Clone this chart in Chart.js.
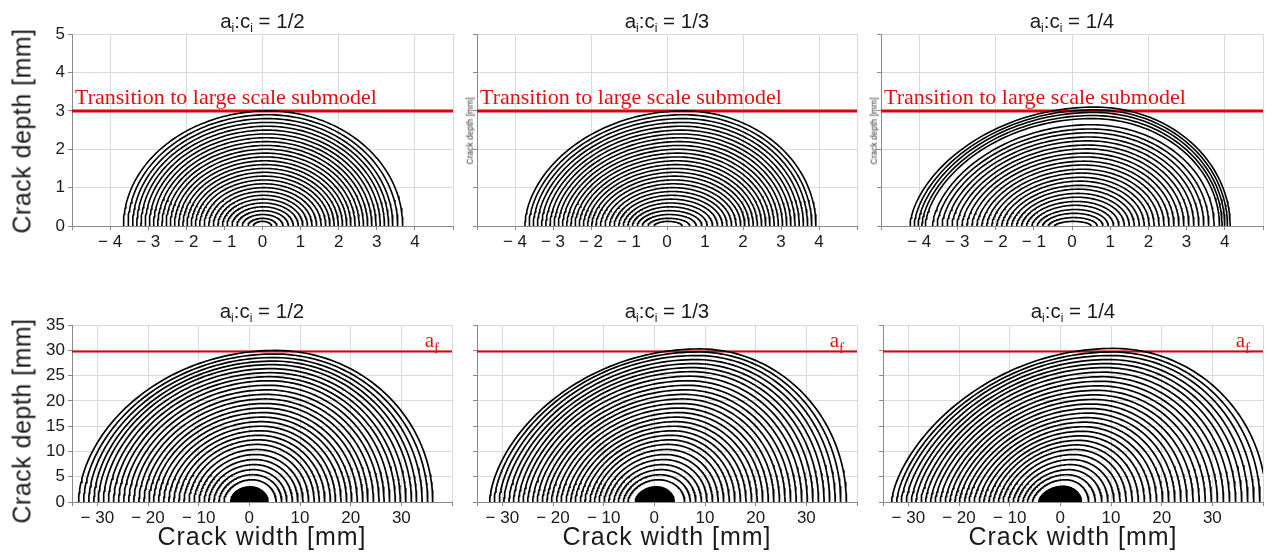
<!DOCTYPE html>
<html>
<head>
<meta charset="utf-8">
<script src="https://cdn.jsdelivr.net/npm/chart.js@4.4.1/dist/chart.umd.min.js"></script>
<style>
  html, body { margin: 0; padding: 0; background: #fff; }
  body { width: 1268px; height: 556px; position: relative; overflow: hidden;
         font-family: "Liberation Sans", Arial, sans-serif; color: #1a1a1a; }
  canvas { position: absolute; }
  .t { position: absolute; white-space: nowrap; transform: translate(-50%, -50%); line-height: 1; }
  .title { font-size: 20.5px; }
  .title sub { font-size: 12px; vertical-align: -4px; line-height: 0; }
  .ylab { font-size: 25px; letter-spacing: 0.5px; transform: translate(-50%, -50%) rotate(-90deg); }
  .xlab { font-size: 25px; letter-spacing: 1px; }
  .ymini { font-size: 8.5px; color: #333; transform: translate(-50%, -50%) rotate(-90deg); }
</style>
</head>
<body>
<div id="root"></div>
<script>
// ---- Crack front data: depth [mm], left / right surface tip [mm], deepest point position [mm] ----

// small scale submodel, a_i:c_i = 1/2
const small12Depth = [0.12,0.2,0.3,0.4,0.5,0.6,0.7,0.8,0.9,1.0,1.1,1.2,1.3,1.4,1.5,1.6,1.7,1.8,1.9,2.0,2.1,2.2,2.3,2.4,2.5,2.6,2.7,2.8,2.9,3.0];
const small12Left  = [-0.24,-0.38,-0.53,-0.67,-0.80,-0.93,-1.05,-1.17,-1.29,-1.41,-1.53,-1.65,-1.76,-1.87,-1.98,-2.09,-2.20,-2.31,-2.42,-2.53,-2.64,-2.75,-2.86,-2.97,-3.08,-3.19,-3.30,-3.41,-3.53,-3.65];
const small12Right = [0.24,0.38,0.54,0.68,0.81,0.94,1.06,1.18,1.30,1.42,1.54,1.66,1.77,1.88,1.99,2.10,2.21,2.32,2.43,2.54,2.65,2.76,2.87,2.98,3.09,3.20,3.31,3.42,3.55,3.68];
const small12Peak  = [0,0,0,0.01,0.01,0.02,0.02,0.03,0.03,0.04,0.04,0.05,0.05,0.06,0.06,0.07,0.07,0.08,0.08,0.09,0.09,0.10,0.10,0.11,0.11,0.12,0.12,0.13,0.14,0.15];

// small scale submodel, a_i:c_i = 1/3
const small13Depth = [0.12,0.2,0.3,0.4,0.5,0.6,0.7,0.8,0.9,1.0,1.1,1.2,1.3,1.4,1.5,1.6,1.7,1.8,1.9,2.0,2.1,2.2,2.3,2.4,2.5,2.6,2.7,2.8,2.9,3.0];
const small13Left  = [-0.34,-0.50,-0.65,-0.78,-0.91,-1.03,-1.15,-1.27,-1.39,-1.51,-1.63,-1.75,-1.87,-1.98,-2.09,-2.20,-2.31,-2.42,-2.53,-2.64,-2.75,-2.86,-2.97,-3.08,-3.19,-3.30,-3.41,-3.52,-3.63,-3.74];
const small13Right = [0.40,0.60,0.77,0.92,1.06,1.20,1.33,1.46,1.58,1.70,1.82,1.94,2.05,2.16,2.27,2.38,2.49,2.60,2.71,2.82,2.93,3.04,3.15,3.26,3.37,3.48,3.59,3.70,3.81,3.92];
const small13Peak  = [0.02,0.03,0.05,0.06,0.08,0.09,0.11,0.12,0.14,0.15,0.17,0.18,0.20,0.21,0.23,0.24,0.26,0.27,0.29,0.30,0.32,0.33,0.35,0.36,0.38,0.39,0.41,0.42,0.44,0.45];

// small scale submodel, a_i:c_i = 1/4
const small14Depth = [0.12,0.22,0.33,0.43,0.54,0.64,0.75,0.85,0.96,1.06,1.17,1.27,1.38,1.48,1.59,1.69,1.80,1.90,2.01,2.11,2.22,2.32,2.43,2.53,2.64,2.80,2.88,2.96,3.03,3.10];
const small14Left  = [-0.46,-0.62,-0.77,-0.91,-1.05,-1.19,-1.32,-1.45,-1.58,-1.71,-1.84,-1.97,-2.10,-2.23,-2.36,-2.49,-2.62,-2.75,-2.88,-3.01,-3.14,-3.27,-3.40,-3.53,-3.65,-3.84,-3.93,-4.03,-4.13,-4.24];
const small14Right = [0.50,0.66,0.81,0.95,1.09,1.23,1.37,1.50,1.63,1.76,1.89,2.02,2.15,2.28,2.41,2.54,2.67,2.80,2.93,3.06,3.19,3.32,3.45,3.58,3.72,3.86,3.93,4.00,4.07,4.14];
const small14Peak  = [0.02,0.04,0.06,0.08,0.10,0.12,0.14,0.16,0.18,0.20,0.22,0.24,0.26,0.28,0.30,0.32,0.34,0.36,0.38,0.40,0.42,0.44,0.46,0.48,0.50,0.52,0.54,0.56,0.58,0.60];

// large scale submodel, a_i:c_i = 1/2
const large12Depth = [4.4,5.4,6.4,7.4,8.4,9.4,10.4,11.4,12.3,13.2,14.1,15.0,15.9,16.8,17.7,18.6,19.5,20.4,21.3,22.2,23.1,24.0,24.8,25.6,26.4,27.2,27.9,28.6,29.3,30.0];
const large12Left  = [-5.0,-6.0,-7.0,-8.0,-8.9,-9.9,-10.9,-11.9,-12.9,-13.9,-14.9,-15.9,-16.9,-17.9,-18.9,-19.8,-20.8,-21.8,-22.8,-23.8,-24.8,-25.8,-26.8,-27.8,-28.8,-29.8,-30.7,-31.7,-32.7,-33.7];
const large12Right = [5.3,6.4,7.4,8.5,9.6,10.6,11.7,12.8,13.8,14.9,16.0,17.0,18.1,19.2,20.2,21.3,22.4,23.4,24.5,25.6,26.6,27.7,28.8,29.8,30.9,32.0,33.0,34.1,35.2,36.2];
const large12Peak  = [0.5,0.7,0.8,1.0,1.1,1.3,1.5,1.6,1.8,1.9,2.1,2.3,2.4,2.6,2.7,2.9,3.1,3.2,3.4,3.5,3.7,3.9,4.0,4.2,4.3,4.5,4.7,4.8,5.0,5.2];

// large scale submodel, a_i:c_i = 1/3
const large13Depth = [4.4,5.4,6.4,7.4,8.4,9.4,10.4,11.4,12.3,13.2,14.1,15.0,15.9,16.8,17.7,18.6,19.5,20.4,21.3,22.2,23.1,24.0,24.9,25.8,26.6,27.4,28.2,29.0,29.7,30.3];
const large13Left  = [-5.2,-6.1,-7.1,-8.0,-9.0,-9.9,-10.9,-11.8,-12.7,-13.7,-14.6,-15.6,-16.5,-17.4,-18.4,-19.3,-20.3,-21.2,-22.1,-23.1,-24.0,-25.0,-25.9,-26.8,-27.8,-28.7,-29.7,-30.6,-31.6,-32.5];
const large13Right = [6.0,7.1,8.2,9.3,10.4,11.5,12.6,13.7,14.8,15.9,17.0,18.1,19.2,20.3,21.4,22.5,23.6,24.7,25.8,26.9,28.0,29.1,30.2,31.3,32.4,33.5,34.6,35.7,36.8,37.9];
const large13Peak  = [0.8,1.1,1.4,1.6,1.9,2.2,2.5,2.8,3.1,3.3,3.6,3.9,4.2,4.5,4.8,5.0,5.3,5.6,5.9,6.2,6.5,6.7,7.0,7.3,7.6,7.9,8.2,8.4,8.7,9.0];

// large scale submodel, a_i:c_i = 1/4
const large14Depth = [4.4,5.4,6.4,7.4,8.4,9.4,10.4,11.3,12.2,13.1,14.0,14.9,15.8,16.7,17.6,18.5,19.4,20.3,21.2,22.1,23.0,23.9,24.8,25.7,26.6,27.4,28.2,29.0,29.7,30.4];
const large14Left  = [-5.5,-6.5,-7.4,-8.4,-9.3,-10.3,-11.3,-12.2,-13.2,-14.1,-15.1,-16.0,-17.0,-18.0,-18.9,-19.9,-20.8,-21.8,-22.7,-23.7,-24.7,-25.6,-26.6,-27.5,-28.5,-29.4,-30.4,-31.4,-32.3,-33.3];
const large14Right = [5.6,6.9,8.2,9.4,10.6,11.8,13.0,14.2,15.4,16.6,17.8,19.0,20.2,21.4,22.6,23.8,25.0,26.2,27.4,28.6,29.8,31.0,32.2,33.4,34.6,35.8,37.0,38.2,39.4,40.6];
const large14Peak  = [1.0,1.3,1.7,2.0,2.3,2.6,3.0,3.3,3.6,4.0,4.3,4.6,4.9,5.3,5.6,5.9,6.2,6.6,6.9,7.2,7.6,7.9,8.2,8.5,8.9,9.2,9.5,9.9,10.2,10.5];

// ---- Titles, tick labels, reference levels ----
const ratioTitles   = ['1/2', '1/3', '1/4'];
const smallXTicks   = [-5,-4,-3,-2,-1,0,1,2,3,4,5];
const smallXLabeled = [-4,-3,-2,-1,0,1,2,3,4];
const smallXGrid    = [-4,-2,0,2,4,5];
const smallYTicks   = [0,1,2,3,4,5];
const largeXTicks   = [-35,-30,-20,-10,0,10,20,30,40];
const largeXLabeled = [-30,-20,-10,0,10,20,30];
const largeXGrid    = [-30,-20,-10,0,10,20,30,40];
const largeYTicks   = [0,5,10,15,20,25,30,35];
const transitionDepth = 3.0;    // switch to the large scale submodel [mm]
const finalDepth      = 29.8;   // final crack depth a_f [mm]

// ---- Panel layout (plot area in page pixels) ----
const panels = [
  { box:[72,34,453,226],  small:true,  yLabels:true,  ratio:0,
    sets:[{d:small12Depth,l:small12Left,r:small12Right,p:small12Peak,pl:0.5}] },
  { box:[477,34,857,226], small:true,  yLabels:false, ratio:1,
    sets:[{d:small13Depth,l:small13Left,r:small13Right,p:small13Peak,pl:0.55}] },
  { box:[881,34,1263,226], small:true, yLabels:false, ratio:2,
    sets:[{d:small14Depth,l:small14Left,r:small14Right,p:small14Peak,pl:0.6}] },
  { box:[72,325,452,502], small:false, yLabels:true,  ratio:0,
    sets:[{d:large12Depth,l:large12Left,r:large12Right,p:large12Peak,pl:0.55},
          {d:small12Depth,l:small12Left,r:small12Right,p:small12Peak,pl:0.5}] },
  { box:[477,325,857,502], small:false, yLabels:false, ratio:1,
    sets:[{d:large13Depth,l:large13Left,r:large13Right,p:large13Peak,pl:0.6},
          {d:small13Depth,l:small13Left,r:small13Right,p:small13Peak,pl:0.55}] },
  { box:[883,325,1263,502], small:false, yLabels:false, ratio:2,
    sets:[{d:large14Depth,l:large14Left,r:large14Right,p:large14Peak,pl:0.65},
          {d:small14Depth,l:small14Left,r:small14Right,p:small14Peak,pl:0.6}] }
];

// One crack front: two quarter-ellipse branches joined at the deepest point
function frontPoints(xl, xr, x0, a, powL) {
  const pts = [], n = 60;
  for (let i = 0; i <= n; i++) {
    const th = i / n * Math.PI / 2;
    pts.push({ x: x0 - (x0 - xl) * Math.cos(th), y: a * Math.pow(Math.sin(th), 2 * powL) });
  }
  for (let i = n - 1; i >= 0; i--) {
    const th = i / n * Math.PI / 2;
    pts.push({ x: x0 + (xr - x0) * Math.cos(th), y: a * Math.sin(th) });
  }
  return pts;
}

const fmt = v => (v < 0 ? '\u2212 ' + Math.abs(v) : String(v));
const serif = '"Liberation Serif", "Times New Roman", serif';

// Labels attached to the red reference line
const levelLabel = {
  id: 'levelLabel',
  afterDatasetsDraw(chart, args, o) {
    const { ctx, chartArea, scales } = chart;
    const py = scales.y.getPixelForValue(o.value);
    ctx.save();
    ctx.fillStyle = '#e01010';
    ctx.textBaseline = 'alphabetic';
    ctx.textAlign = 'left';
    if (o.kind === 'transition') {
      ctx.font = '22px ' + serif;
      ctx.fillText('Transition to large scale submodel', chartArea.left + 3, py - 7);
    } else {
      ctx.font = '15px ' + serif;
      const wf = ctx.measureText('f').width;
      ctx.font = '21px ' + serif;
      const wa = ctx.measureText('a').width;
      const xr = chartArea.right - 13;
      ctx.fillText('a', xr - wf - wa, py - 4);
      ctx.font = '15px ' + serif;
      ctx.fillText('f', xr - wf, py + 2);
    }
    ctx.restore();
  }
};

const root = document.getElementById('root');
function addText(cls, html, x, y) {
  const d = document.createElement('div');
  d.className = 't ' + cls;
  d.innerHTML = html;
  d.style.left = x + 'px';
  d.style.top = y + 'px';
  root.appendChild(d);
}

function buildPanel(p, W, H, wy, hx, padTop, padRight) {
  const cv = document.createElement('canvas');
  cv.width = W; cv.height = H;
  cv.style.width = W + 'px'; cv.style.height = H + 'px';
  root.appendChild(cv);

  const xMin = p.small ? -5 : -35, xMax = p.small ? 5 : 40;
  const yMax = p.small ? 5 : 35;
  const xTicks = p.small ? smallXTicks : largeXTicks;
  const xLab = p.small ? smallXLabeled : largeXLabeled;
  const xGrid = p.small ? smallXGrid : largeXGrid;
  const yTicks = p.small ? smallYTicks : largeYTicks;
  const level = p.small ? transitionDepth : finalDepth;

  const datasets = [];
  p.sets.forEach(s => {
    s.d.forEach((a, i) => {
      datasets.push({
        data: frontPoints(s.l[i], s.r[i], s.p[i], a, s.pl),
        borderColor: '#000', borderWidth: p.small ? 1.6 : 1.7,
        pointRadius: 0, showLine: true, tension: 0, fill: false
      });
    });
  });
  datasets.push({
    data: [{ x: xMin, y: level }, { x: xMax, y: level }],
    borderColor: '#e00000', borderWidth: p.small ? 3 : 2,
    pointRadius: 0, showLine: true, fill: false
  });

  const tickFont = { family: '"Liberation Sans", Arial, sans-serif', size: 17 };
  const chart = new Chart(cv, {
    type: 'scatter',
    data: { datasets },
    plugins: [levelLabel],
    options: {
      responsive: false, maintainAspectRatio: false, animation: false, devicePixelRatio: 1,
      layout: { padding: { top: padTop, right: padRight, left: 0, bottom: 0 }, autoPadding: false },
      plugins: { legend: { display: false }, tooltip: { enabled: false },
                 levelLabel: { value: level, kind: p.small ? 'transition' : 'final' } },
      scales: {
        x: {
          type: 'linear', min: xMin, max: xMax,
          afterBuildTicks: s => { s.ticks = xTicks.map(v => ({ value: v })); },
          afterFit: s => { s.height = hx; },
          ticks: { font: tickFont, color: '#1a1a1a', padding: 2, maxRotation: 0, autoSkip: false,
                   callback: v => (xLab.includes(v) ? fmt(v) : '') },
          grid: { color: c => (c.tick && xGrid.includes(c.tick.value) ? '#d9d9d9' : 'rgba(0,0,0,0)'),
                  tickColor: '#8a8a8a', tickLength: 4, lineWidth: 1 },
          border: { display: true, color: '#8a8a8a', width: 1 }
        },
        y: {
          type: 'linear', min: 0, max: yMax,
          afterBuildTicks: s => { s.ticks = yTicks.map(v => ({ value: v })); },
          afterFit: s => { s.width = wy; },
          ticks: { font: tickFont, color: '#1a1a1a', padding: 3, autoSkip: false,
                   callback: v => (p.yLabels ? String(v) : '') },
          grid: { color: '#d9d9d9', tickColor: '#8a8a8a', tickLength: 4, lineWidth: 1 },
          border: { display: true, color: '#8a8a8a', width: 1 }
        }
      }
    }
  });
  return { cv, chart };
}

panels.forEach(p => {
  const [l, t, r, b] = p.box;
  const wy = p.yLabels ? 72 : 20, padTop = 6, padRight = 5, hx = 36;
  let W = wy + (r - l) + padRight, H = padTop + (b - t) + hx;

  // first pass tells how much room the layout takes; rebuild with a corrected canvas size
  let built = buildPanel(p, W, H, wy, hx, padTop, padRight);
  let ca = built.chart.chartArea;
  const dw = Math.round((r - l) - (ca.right - ca.left));
  const dh = Math.round((b - t) - (ca.bottom - ca.top));
  if (dw !== 0 || dh !== 0) {
    built.chart.destroy();
    built.cv.remove();
    W += dw; H += dh;
    built = buildPanel(p, W, H, wy, hx, padTop, padRight);
    ca = built.chart.chartArea;
  }
  built.cv.style.left = (l - Math.round(ca.left)) + 'px';
  built.cv.style.top = (t - Math.round(ca.top)) + 'px';

  const cx = (l + r) / 2;
  const title = 'a<sub>i</sub>:c<sub>i</sub> = ' + ratioTitles[p.ratio];
  addText('title', title, cx, p.small ? 21 : 311);
  if (!p.small) addText('xlab', 'Crack width [mm]', cx, 536);
  if (p.yLabels) addText('ylab', 'Crack depth [mm]', 22, p.small ? 131 : 421);
  else if (p.small) addText('ymini', 'Crack depth [mm]', l - 7, 131);
});
</script>
</body>
</html>
